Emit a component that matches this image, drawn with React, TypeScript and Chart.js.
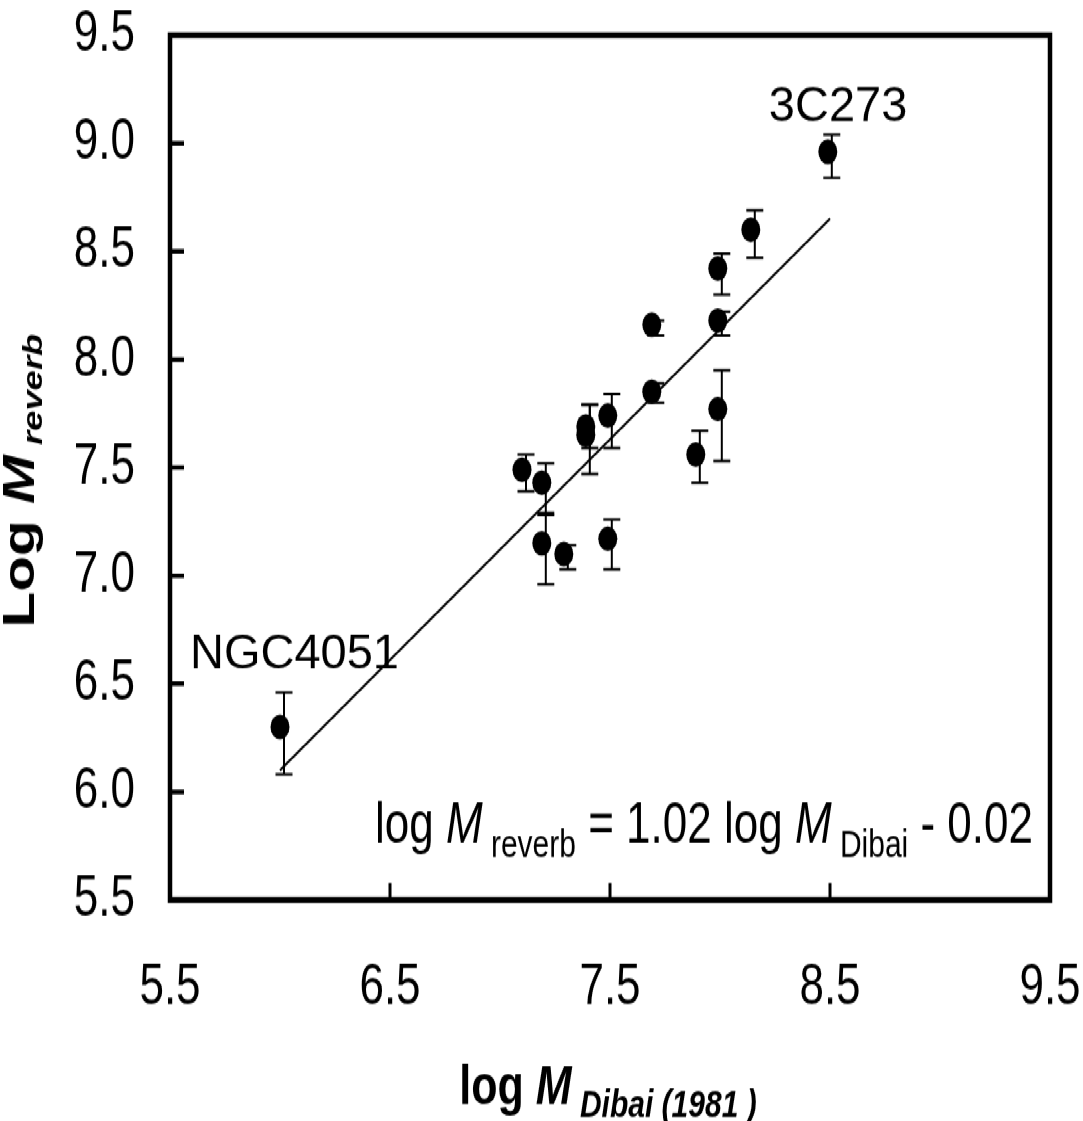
import React, { useEffect, useRef } from "react";
import { Chart, registerables } from "chart.js";

Chart.register(...registerables);

// ---- data ----
const xValues = [6.0, 7.1, 7.19, 7.19, 7.29, 7.39, 7.39, 7.49, 7.49, 7.69, 7.69, 7.89, 7.99, 7.99, 7.99, 8.14, 8.49];
const yValues = [6.3, 7.49, 7.43, 7.15, 7.1, 7.69, 7.65, 7.74, 7.17, 7.85, 8.16, 7.56, 7.77, 8.18, 8.42, 8.6, 8.96];
const errUpper = [0.16, 0.07, 0.09, 0.13, 0.04, 0.1, 0.14, 0.1, 0.09, 0.04, 0.02, 0.11, 0.18, 0.04, 0.07, 0.09, 0.08];
const errLower = [0.22, 0.1, 0.14, 0.19, 0.07, 0.1, 0.18, 0.15, 0.14, 0.05, 0.05, 0.13, 0.24, 0.07, 0.12, 0.13, 0.12];

const fitX = [6.0, 8.5];
const fitY = [6.1, 8.65];

const xTickValues = [5.5, 6.5, 7.5, 8.5, 9.5];
const yTickValues = [5.5, 6.0, 6.5, 7.0, 7.5, 8.0, 8.5, 9.0, 9.5];

const labelNames = ["NGC4051", "3C273"];
const labelPointIndex = [0, 16];

// ---- layout constants ----
const W = 1083;
const H = 862;
const STRETCH = 1121 / H;
const FAMILY = '"Liberation Sans", Arial, Helvetica, sans-serif';

type Seg = { text: string; font: string; dy: number };

function drawRich(ctx: CanvasRenderingContext2D, segs: Seg[], x: number, y: number, center: boolean) {
  const widths = segs.map((s) => {
    ctx.font = s.font;
    return ctx.measureText(s.text).width;
  });
  const total = widths.reduce((a, b) => a + b, 0);
  let cx = center ? x - total / 2 : x;
  segs.forEach((s, i) => {
    ctx.font = s.font;
    ctx.fillText(s.text, cx, y + s.dy);
    cx += widths[i];
  });
}

const errorBarPlugin = {
  id: "errorBars",
  beforeDatasetsDraw(chart: any) {
    const { ctx } = chart;
    const xs = chart.scales.x;
    const ys = chart.scales.y;
    ctx.save();
    ctx.strokeStyle = "#000";
    ctx.lineWidth = 2;
    xValues.forEach((xv, i) => {
      const px = xs.getPixelForValue(xv) + 4;
      const top = ys.getPixelForValue(yValues[i] + errUpper[i]);
      const bot = ys.getPixelForValue(yValues[i] - errLower[i]);
      ctx.beginPath();
      ctx.moveTo(px, top);
      ctx.lineTo(px, bot);
      ctx.moveTo(px - 8.5, top);
      ctx.lineTo(px + 8.5, top);
      ctx.moveTo(px - 8.5, bot);
      ctx.lineTo(px + 8.5, bot);
      ctx.stroke();
    });
    ctx.restore();
  },
};

const framePlugin = {
  id: "frameAndText",
  afterDraw(chart: any) {
    const { ctx, chartArea } = chart;
    const { left, right, top, bottom } = chartArea;
    const xs = chart.scales.x;
    const ys = chart.scales.y;
    ctx.save();
    ctx.strokeStyle = "#000";
    ctx.fillStyle = "#000";

    // inner tick marks
    ctx.lineWidth = 3.5;
    ctx.beginPath();
    ys.ticks.forEach((t: any) => {
      if (t.value <= ys.min || t.value >= ys.max) return;
      const py = ys.getPixelForValue(t.value);
      ctx.moveTo(left, py);
      ctx.lineTo(left + 14, py);
    });
    ctx.stroke();
    ctx.lineWidth = 3;
    ctx.beginPath();
    xs.ticks.forEach((t: any) => {
      if (t.value <= xs.min || t.value >= xs.max) return;
      const px = xs.getPixelForValue(t.value);
      ctx.moveTo(px, bottom);
      ctx.lineTo(px, bottom - 13);
    });
    ctx.stroke();

    // frame
    ctx.lineWidth = 4.5;
    ctx.strokeRect(left, top, right - left, bottom - top);

    ctx.textAlign = "left";
    ctx.textBaseline = "alphabetic";

    // equation
    drawRich(
      ctx,
      [
        { text: "log ", font: `44px ${FAMILY}`, dy: 0 },
        { text: "M", font: `italic 44px ${FAMILY}`, dy: 0 },
        { text: " reverb", font: `30px ${FAMILY}`, dy: 11.5 },
        { text: " = 1.02 log ", font: `44px ${FAMILY}`, dy: 0 },
        { text: "M", font: `italic 44px ${FAMILY}`, dy: 0 },
        { text: " Dibai", font: `30px ${FAMILY}`, dy: 11.5 },
        { text: " - 0.02", font: `44px ${FAMILY}`, dy: 0 },
      ],
      375,
      647.5,
      false
    );

    // x axis title
    drawRich(
      ctx,
      [
        { text: "log ", font: `bold 43px ${FAMILY}`, dy: 0 },
        { text: "M", font: `italic bold 43px ${FAMILY}`, dy: 0 },
        { text: " Dibai (1981 )", font: `italic bold 30px ${FAMILY}`, dy: 10.5 },
      ],
      (left + right) / 2 - 2,
      848.5,
      true
    );

    // y axis title (rotated)
    ctx.save();
    ctx.translate(34, (top + bottom) / 2 + 10);
    ctx.rotate(-Math.PI / 2);
    drawRich(
      ctx,
      [
        { text: "Log ", font: `bold 45px ${FAMILY}`, dy: 0 },
        { text: "M", font: `italic bold 45px ${FAMILY}`, dy: 0 },
        { text: " reverb", font: `italic bold 28px ${FAMILY}`, dy: 8 },
      ],
      0,
      0,
      true
    );
    ctx.restore();

    // point labels (not stretched in the reference)
    const offsets = [
      [-90, -45.4],
      [-59, -24],
    ];
    labelNames.forEach((name, k) => {
      const i = labelPointIndex[k];
      const px = xs.getPixelForValue(xValues[i]) + offsets[k][0];
      const py = ys.getPixelForValue(yValues[i]) + offsets[k][1];
      ctx.save();
      ctx.translate(px, py);
      ctx.scale(1, 1 / STRETCH);
      ctx.font = `47px ${FAMILY}`;
      ctx.fillText(name, 0, 0);
      ctx.restore();
    });

    ctx.restore();
  },
};

export default function App() {
  const canvasRef = useRef<HTMLCanvasElement | null>(null);

  useEffect(() => {
    if (!canvasRef.current) return;
    const chart = new Chart(canvasRef.current, {
      type: "scatter",
      data: {
        datasets: [
          {
            label: "data",
            data: xValues.map((x, i) => ({ x, y: yValues[i] })),
            backgroundColor: "#000",
            borderWidth: 0,
            pointRadius: 9.5,
            pointHoverRadius: 9.5,
            showLine: false,
            order: 1,
          },
          {
            label: "fit",
            data: fitX.map((x, i) => ({ x, y: fitY[i] })),
            borderColor: "#000",
            borderWidth: 2,
            pointRadius: 0,
            showLine: true,
            fill: false,
            order: 2,
          },
        ],
      },
      options: {
        animation: false,
        responsive: true,
        maintainAspectRatio: false,
        layout: { padding: { top: 27, right: 33, left: 0, bottom: 0 } },
        plugins: {
          legend: { display: false },
          tooltip: { enabled: false },
        },
        events: [],
        scales: {
          x: {
            type: "linear",
            min: 5.5,
            max: 9.5,
            afterBuildTicks: (scale: any) => {
              scale.ticks = xTickValues.map((v) => ({ value: v }));
            },
            afterFit: (scale: any) => {
              scale.height = 170;
              scale.paddingLeft = 0;
              scale.paddingRight = 0;
            },
            grid: { display: false, drawTicks: false },
            border: { display: false },
            ticks: {
              autoSkip: false,
              maxRotation: 0,
              padding: 41,
              color: "#000",
              font: { family: FAMILY, size: 44 },
              callback: (v: any) => Number(v).toFixed(1),
            },
          },
          y: {
            type: "linear",
            min: 5.5,
            max: 9.5,
            afterBuildTicks: (scale: any) => {
              scale.ticks = yTickValues.map((v) => ({ value: v }));
            },
            afterFit: (scale: any) => {
              scale.width = 170;
              scale.paddingTop = 0;
              scale.paddingBottom = 0;
            },
            grid: { display: false, drawTicks: false },
            border: { display: false },
            ticks: {
              autoSkip: false,
              padding: 35,
              color: "#000",
              font: { family: FAMILY, size: 44 },
              callback: (v: any) => Number(v).toFixed(1),
            },
          },
        },
      },
      plugins: [errorBarPlugin, framePlugin],
    } as any);
    return () => chart.destroy();
  }, []);

  return (
    <div
      style={{
        position: "absolute",
        left: 0,
        top: 0,
        width: W,
        height: H,
        transform: `scale(1, ${STRETCH})`,
        transformOrigin: "0 0",
        background: "#fff",
      }}
    >
      <canvas ref={canvasRef} />
    </div>
  );
}
